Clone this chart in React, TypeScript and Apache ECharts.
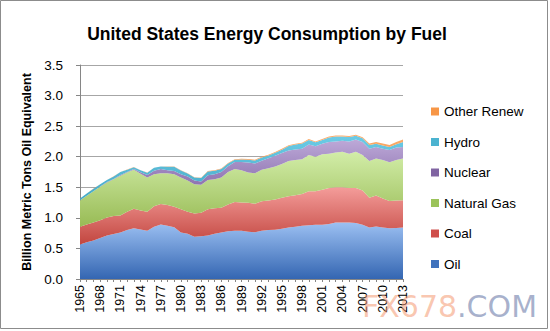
import React, { useEffect, useRef } from "react";
import * as echarts from "echarts";

const years: string[] = [];
for (let y = 1965; y <= 2013; y++) years.push(String(y));

const oil = [0.565, 0.6, 0.63, 0.67, 0.71, 0.737, 0.76, 0.8, 0.83, 0.81, 0.79, 0.855, 0.89, 0.87, 0.845, 0.76, 0.74, 0.69, 0.7, 0.71, 0.74, 0.76, 0.78, 0.79, 0.79, 0.774, 0.763, 0.79, 0.8, 0.806, 0.82, 0.844, 0.855, 0.87, 0.88, 0.887, 0.887, 0.9, 0.925, 0.925, 0.925, 0.915, 0.887, 0.844, 0.86, 0.844, 0.828, 0.835, 0.844];
const coal = [0.29, 0.29, 0.295, 0.29, 0.295, 0.293, 0.28, 0.3, 0.32, 0.31, 0.31, 0.335, 0.335, 0.34, 0.335, 0.38, 0.36, 0.38, 0.385, 0.43, 0.416, 0.407, 0.44, 0.47, 0.46, 0.473, 0.467, 0.48, 0.485, 0.494, 0.51, 0.511, 0.515, 0.52, 0.555, 0.548, 0.573, 0.59, 0.575, 0.575, 0.565, 0.575, 0.559, 0.486, 0.505, 0.473, 0.446, 0.45, 0.446];
const gas = [0.43, 0.47, 0.51, 0.55, 0.575, 0.6, 0.65, 0.64, 0.635, 0.6, 0.56, 0.525, 0.505, 0.52, 0.535, 0.52, 0.51, 0.48, 0.455, 0.48, 0.474, 0.493, 0.53, 0.54, 0.53, 0.493, 0.5, 0.515, 0.525, 0.54, 0.55, 0.575, 0.576, 0.57, 0.595, 0.565, 0.58, 0.56, 0.57, 0.58, 0.56, 0.59, 0.584, 0.6, 0.605, 0.629, 0.636, 0.661, 0.68];
const nuclear = [0.001, 0.002, 0.002, 0.003, 0.005, 0.005, 0.01, 0.01, 0.015, 0.025, 0.04, 0.055, 0.07, 0.05, 0.05, 0.055, 0.065, 0.06, 0.055, 0.075, 0.085, 0.09, 0.095, 0.115, 0.135, 0.165, 0.16, 0.15, 0.165, 0.175, 0.18, 0.17, 0.174, 0.17, 0.17, 0.17, 0.17, 0.19, 0.18, 0.18, 0.2, 0.2, 0.21, 0.2, 0.19, 0.184, 0.2, 0.204, 0.19];
const hydro = [0.03, 0.036, 0.041, 0.035, 0.033, 0.043, 0.048, 0.038, 0.028, 0.033, 0.038, 0.048, 0.038, 0.055, 0.07, 0.06, 0.052, 0.05, 0.055, 0.065, 0.055, 0.05, 0.042, 0.035, 0.04, 0.045, 0.048, 0.052, 0.043, 0.05, 0.055, 0.075, 0.08, 0.085, 0.075, 0.065, 0.065, 0.075, 0.08, 0.07, 0.073, 0.062, 0.06, 0.06, 0.052, 0.055, 0.048, 0.055, 0.08];
const otherRenew = [0.002, 0.002, 0.002, 0.002, 0.002, 0.002, 0.002, 0.002, 0.002, 0.002, 0.002, 0.002, 0.002, 0.003, 0.003, 0.004, 0.004, 0.005, 0.005, 0.006, 0.007, 0.008, 0.009, 0.01, 0.012, 0.012, 0.012, 0.013, 0.013, 0.014, 0.014, 0.014, 0.014, 0.015, 0.015, 0.015, 0.015, 0.015, 0.015, 0.015, 0.017, 0.018, 0.02, 0.025, 0.028, 0.03, 0.032, 0.035, 0.04];

const seriesNames = ["Oil", "Coal", "Natural Gas", "Nuclear", "Hydro", "Other Renew"];
const legendOrder = ["Other Renew", "Hydro", "Nuclear", "Natural Gas", "Coal", "Oil"];
const yTicks = [0, 0.5, 1, 1.5, 2, 2.5, 3, 3.5];

const grad = (top: string, bottom: string) =>
  new echarts.graphic.LinearGradient(0, 0, 0, 1, [
    { offset: 0, color: top },
    { offset: 1, color: bottom },
  ]);

export default function App() {
  const ref = useRef<HTMLDivElement>(null);
  useEffect(() => {
    if (!ref.current) return;
    const chart = echarts.init(ref.current, undefined, { renderer: "svg" });
    const font = "Liberation Sans, Arial, sans-serif";
    const dataSets = [oil, coal, gas, nuclear, hydro, otherRenew];
    const fills = [
      ["#9cc0f2", "#3466b2"],
      ["#f49c9a", "#c2463f"],
      ["#d2eda8", "#98bb55"],
      ["#bda9d8", "#7f62a3"],
      ["#6ccbe6", "#44a9c6"],
      ["#fbad6c", "#f28a3a"],
    ];
    const legendColors = ["#3f72bd", "#cf4e4b", "#9bc35a", "#8064a2", "#4bb3d0", "#f79646"];
    chart.setOption({
      animation: false,
      backgroundColor: "#ffffff",
      title: {
        text: "United States Energy Consumption by Fuel",
        left: 262,
        textAlign: "center",
        top: 20,
        textStyle: { fontFamily: font, fontSize: 17.5, fontWeight: "bold", color: "#000" },
      },
      grid: { left: 80, top: 65, right: 147, bottom: 52, containLabel: false },
      legend: {
        data: legendOrder,
        orient: "vertical",
        left: 431,
        top: 104.5,
        padding: 0,
        itemWidth: 8,
        itemHeight: 8,
        itemGap: 16.5,
        icon: "rect",
        textStyle: { fontFamily: font, fontSize: 13.5, color: "#000", lineHeight: 14 },
      },
      xAxis: {
        type: "category",
        data: years,
        boundaryGap: false,
        axisLine: { lineStyle: { color: "#868686" } },
        axisTick: { interval: 0, length: 3, lineStyle: { color: "#868686" } },
        axisLabel: { interval: 2, rotate: 90, fontFamily: font, fontSize: 12.5, color: "#000", margin: 6 },
        splitLine: { show: false },
      },
      yAxis: {
        type: "value",
        min: 0,
        max: 3.5,
        interval: 0.5,
        name: "Billion Metric Tons Oil Equivalent",
        nameLocation: "middle",
        nameGap: 44,
        nameTextStyle: { fontFamily: font, fontSize: 12.5, fontWeight: "bold", color: "#000" },
        axisLine: { show: true, lineStyle: { color: "#868686" } },
        axisTick: { show: true, inside: false, length: 4, lineStyle: { color: "#868686" } },
        axisLabel: {
          fontFamily: font,
          fontSize: 13.5,
          color: "#000",
          margin: 17,
          formatter: (v: number) => (yTicks.indexOf(v) >= 0 ? v.toFixed(1) : ""),
        },
        splitLine: { lineStyle: { color: "#a6a6a6", width: 1 } },
      },
      series: seriesNames.map((name, i) => ({
        name,
        type: "line",
        stack: "total",
        data: dataSets[i],
        showSymbol: false,
        symbol: "none",
        lineStyle: { width: 0 },
        itemStyle: { color: legendColors[i] },
        areaStyle: { color: grad(fills[i][0], fills[i][1]), opacity: 1 },
        z: 2,
      })),
      graphic: [
        {
          type: "rect",
          shape: { x: 0.5, y: 0.5, width: 547, height: 328 },
          style: { fill: "none", stroke: "#8c8c8c", lineWidth: 1 },
          silent: true,
        },
        {
          type: "text",
          left: 362,
          top: 291,
          style: {
            text: "{a|FX678}{b|.COM}",
            rich: {
              a: { fontFamily: "DejaVu Sans, sans-serif", fontSize: 30, fill: "rgba(244,150,110,0.55)" },
              b: { fontFamily: "DejaVu Sans, sans-serif", fontSize: 30, fill: "rgba(110,125,170,0.6)" },
            },
          },
          silent: true,
          z: 100,
        },
      ],
    });
    return () => chart.dispose();
  }, []);
  return (
    <div
      ref={ref}
      style={{ position: "fixed", left: 0, top: 0, width: 550, height: 331 }}
    />
  );
}
